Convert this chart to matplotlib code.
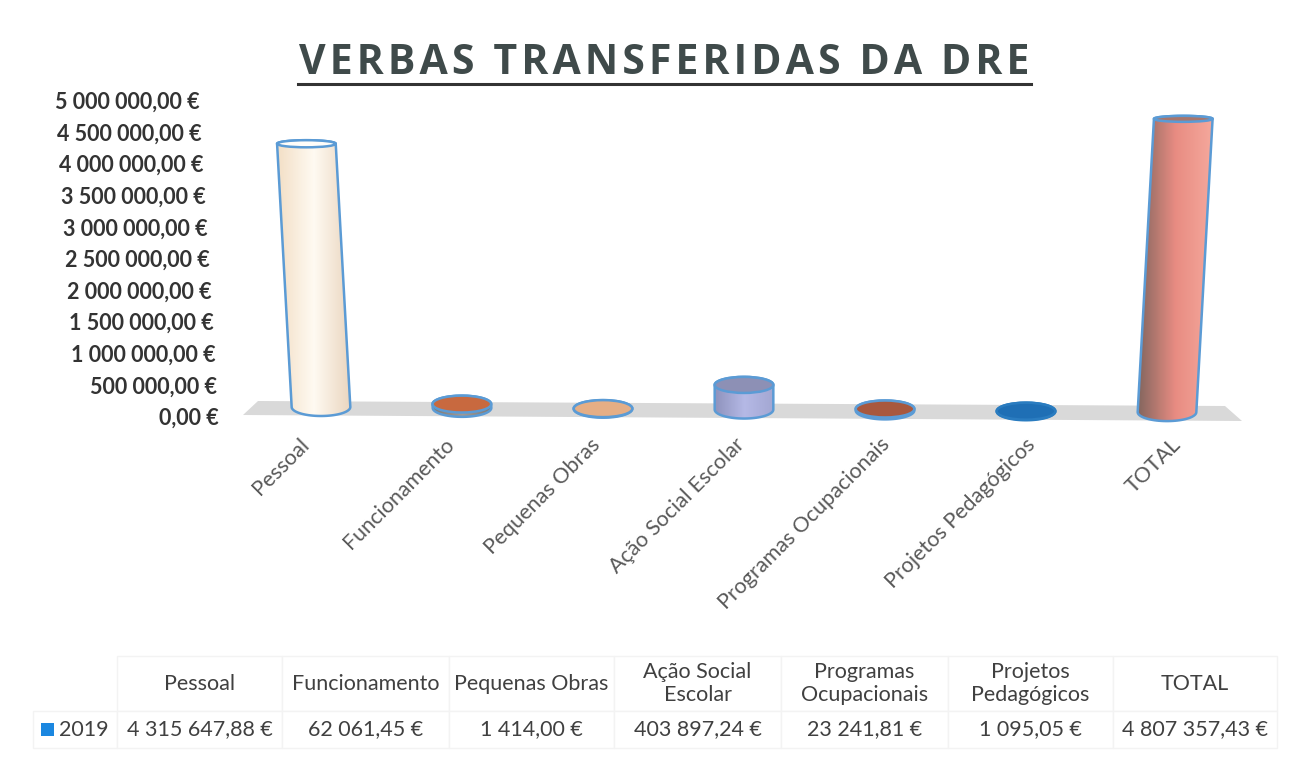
import numpy as np
import matplotlib
matplotlib.use('Agg')
import matplotlib.pyplot as plt
from matplotlib.colors import LinearSegmentedColormap
from matplotlib.patches import Ellipse, Polygon, Rectangle
from matplotlib.table import Table

plt.rcParams['font.family'] = ['Lato', 'DejaVu Sans']

# data
categorias = ['Pessoal', 'Funcionamento', 'Pequenas Obras', 'Ação Social Escolar',
              'Programas Ocupacionais', 'Projetos Pedagógicos', 'TOTAL']
cabecalho = ['Pessoal', 'Funcionamento', 'Pequenas Obras', 'Ação Social\nEscolar',
             'Programas\nOcupacionais', 'Projetos\nPedagógicos', 'TOTAL']
valores = [4315647.88, 62061.45, 1414.00, 403897.24, 23241.81, 1095.05, 4807357.43]
valores_txt = ['4 315 647,88 €', '62 061,45 €', '1 414,00 €', '403 897,24 €',
               '23 241,81 €', '1 095,05 €', '4 807 357,43 €']
ticks = [0, 500000, 1000000, 1500000, 2000000, 2500000, 3000000, 3500000, 4000000, 4500000, 5000000]
ano = '2019'
titulo = 'VERBAS TRANSFERIDAS DA DRE'

# cores: esquerda, meio, direita, topo, borda
cores = [('#f3dfc6', '#fffaf2', '#ead6bf', '#fffdf9', '#5b9bd5'),
         ('#7d7a78', '#a09a96', '#7d7a78', '#c8693f', '#5b9bd5'),
         ('#e5ae85', '#e5ae85', '#e5ae85', '#e5ae85', '#5b9bd5'),
         ('#8f93bd', '#b5b9e6', '#a3a7d2', '#8d90b5', '#5b9bd5'),
         ('#7d7a78', '#a09a96', '#7d7a78', '#a8583e', '#5b9bd5'),
         ('#1f6fb5', '#1f6fb5', '#1f6fb5', '#1f6fb5', '#2a7cc0'),
         ('#85675f', '#e88c82', '#f5a89c', '#a8766c', '#5b9bd5')]

W, H = 1305, 758
fig = plt.figure(figsize=(W / 100, H / 100), dpi=100)

# eixo em pixeis para o fundo (chao, titulo, escala, tabela)
fundo = fig.add_axes([0, 0, 1, 1], zorder=0)
fundo.set_xlim(0, W)
fundo.set_ylim(H, 0)
fundo.axis('off')

fundo.add_patch(Polygon([(243, 415), (258, 401), (1225, 406), (1242, 421)],
                        closed=True, fc='#d9d9d9', ec='none'))

# espacamento entre letras com hair space
fundo.text(664, 74, '\u200a'.join(titulo), ha='center', va='baseline', fontsize=29.5, fontweight='bold',
           color='#3f4a4a', family=['Open Sans', 'DejaVu Sans'])
fundo.plot([298, 1031], [84, 84], color='#333333', lw=2.2)

for t in ticks:
    px = 418.5 - t / 5000000 * 316
    fx = 219 - t / 5000000 * 19
    s = f'{t:,.2f}'.replace(',', ' ').replace('.', ',') + ' €'
    fundo.text(fx, px, s, ha='right', va='center', fontsize=15.5, fontweight='bold', color='#333333')

# cilindros
esq, dir_, topo, base = 240, 1250, 100, 440
x0, dx, y0, dy = 321, 141, 407, 61 / 1e6
ax = fig.add_axes([esq / W, 1 - base / H, (dir_ - esq) / W, (base - topo) / H], zorder=1)
ax.patch.set_alpha(0)
for s in ax.spines.values():
    s.set_visible(False)
ax.set_yticks([])

larg = 0.208
for i, v in enumerate(valores):
    b = -i * 0.85 / dy
    inc = 8e-9 * (i - 3) * v
    hb = 9 / dy
    ht = (8.5 - 5.5 * v / 4.8e6) / dy
    th = np.linspace(np.pi, 2 * np.pi, 40)
    baixo = np.c_[i + larg * np.cos(th), b + hb * np.sin(th)]
    th2 = np.linspace(0, np.pi, 40)
    cima = np.c_[i + inc + larg * np.cos(th2), b + v + ht * np.sin(th2)]
    corpo = Polygon(np.r_[baixo, cima], closed=True, fc='none', ec=cores[i][4], lw=1.8, zorder=3)
    cmap = LinearSegmentedColormap.from_list(f'c{i}', cores[i][:3])
    g = ax.imshow(np.linspace(0, 1, 64)[None, :], cmap=cmap, aspect='auto', zorder=2,
                  extent=[i + min(inc, 0) - larg, i + max(inc, 0) + larg, b - hb, b + v + ht])
    ax.add_patch(corpo)
    g.set_clip_path(corpo)
    ax.add_patch(Ellipse((i + inc, b + v), 2 * larg, 2 * ht, fc=cores[i][3], ec=cores[i][4], lw=1.8, zorder=4))
ax.set_xlim((esq - x0) / dx, (dir_ - x0) / dx)
ax.set_ylim((y0 - base) / dy, (y0 - topo) / dy)

pos = [i + (i - 3) * 0.03 - 0.015 for i in range(len(categorias))]
ax.set_xticks(pos)
ax.set_xticklabels(categorias, rotation=45, ha='right', va='center', rotation_mode='anchor',
                   fontsize=15.5, color='#595959')
ax.tick_params(axis='x', length=0, pad=1)

# tabela
colx = [33, 117, 282, 449, 614, 781, 948, 1113, 1277]
alt = [55, 37]
tab = Table(fundo, bbox=[colx[0] / W, 1 - 748 / H, (colx[-1] - colx[0]) / W, sum(alt) / H])
for c in range(8):
    w = colx[c + 1] - colx[c]
    a = tab.add_cell(0, c, w, alt[0], text='' if c == 0 else cabecalho[c - 1], loc='center', edgecolor='#f3f3f3')
    d = tab.add_cell(1, c, w, alt[1], text=ano if c == 0 else valores_txt[c - 1],
                     loc='right' if c == 0 else 'center', edgecolor='#f3f3f3')
    a.get_text().set_color('#404040')
    d.get_text().set_color('#404040')
tab[(0, 0)].visible_edges = ''
tab.auto_set_font_size(False)
tab.set_fontsize(15.5)
fundo.add_table(tab)
fundo.add_patch(Rectangle((41, 723), 13, 13, fc='#1b87e0', ec='none', zorder=5))

fig.savefig('out.png', dpi=100)
